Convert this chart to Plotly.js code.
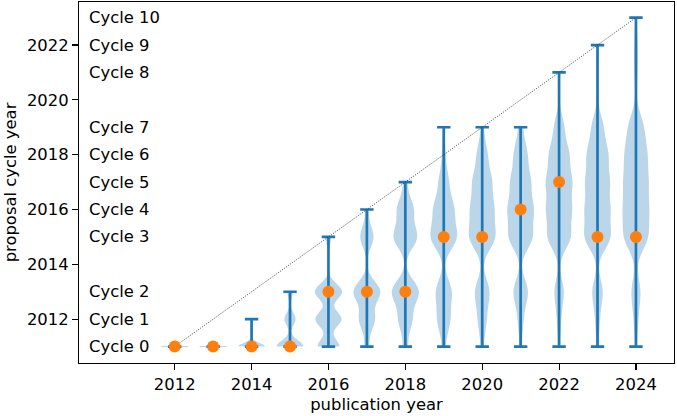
<!DOCTYPE html>
<html>
<head>
<meta charset="utf-8">
<script src="https://cdn.plot.ly/plotly-3.0.1.min.js"></script>
<style>html,body{margin:0;padding:0;background:#fff;}#chart{width:677px;height:416px;}</style>
</head>
<body>
<div id="chart"></div>
<script>
// ---- data ----
const pubYears = [2012, 2013, 2014, 2015, 2016, 2017, 2018, 2019, 2020, 2021, 2022, 2023, 2024];
const cycleYears = [2011, 2012, 2013, 2015, 2016, 2017, 2018, 2019, 2021, 2022, 2023];
const cycleNames = ['Cycle 0', 'Cycle 1', 'Cycle 2', 'Cycle 3', 'Cycle 4', 'Cycle 5', 'Cycle 6', 'Cycle 7', 'Cycle 8', 'Cycle 9', 'Cycle 10'];
// number of publications per proposal cycle (order of cycleYears), one array per publication year
const counts2012 = [5, 0, 0, 0, 0, 0, 0, 0, 0, 0, 0];
const counts2013 = [12, 0, 0, 0, 0, 0, 0, 0, 0, 0, 0];
const counts2014 = [28, 2, 0, 0, 0, 0, 0, 0, 0, 0, 0];
const counts2015 = [185, 77, 37, 0, 0, 0, 0, 0, 0, 0, 0];
const counts2016 = [200, 240, 250, 50, 0, 0, 0, 0, 0, 0, 0];
const counts2017 = [40, 140, 240, 120, 30, 0, 0, 0, 0, 0, 0];
const counts2018 = [50, 150, 300, 260, 180, 40, 0, 0, 0, 0, 0];
const counts2019 = [40, 160, 200, 330, 250, 120, 40, 15, 0, 0, 0];
const counts2020 = [30, 90, 160, 280, 240, 200, 110, 25, 0, 0, 0];
const counts2021 = [25, 60, 170, 270, 280, 220, 150, 50, 0, 0, 0];
const counts2022 = [20, 45, 110, 260, 270, 280, 220, 110, 25, 0, 0];
const counts2023 = [25, 55, 140, 330, 300, 290, 260, 150, 25, 15, 0];
const counts2024 = [20, 50, 120, 300, 290, 280, 260, 190, 40, 40, 15];
const countsByYear = [counts2012, counts2013, counts2014, counts2015, counts2016, counts2017, counts2018,
  counts2019, counts2020, counts2021, counts2022, counts2023, counts2024];
// most common proposal cycle year per publication year (orange dots)
const peakCycle = [2011, 2011, 2011, 2011, 2013, 2013, 2013, 2015, 2015, 2016, 2017, 2015, 2015];

// ---- style ----
const C0 = '#1f77b4', C1 = '#ff7f0e';
const VW = 0.7;            // violin width (data units)
const FONT = 'DejaVu Sans, Liberation Sans, sans-serif';
const FS = 16.4;

const traces = [];
const mins = [], maxs = [];
const flatX = [], flatY = [];

pubYears.forEach((yr, i) => {
  const samples = [];
  countsByYear[i].forEach((c, k) => { for (let j = 0; j < c; j++) samples.push(cycleYears[k]); });
  const n = samples.length;
  const mean = samples.reduce((a, b) => a + b, 0) / n;
  const sd = Math.sqrt(samples.reduce((a, b) => a + (b - mean) * (b - mean), 0) / (n - 1));
  const lo = Math.min(...samples), hi = Math.max(...samples);
  mins.push(lo); maxs.push(hi);
  if (sd > 0) {
    traces.push({
      type: 'violin', x0: yr, y: samples, name: String(yr),
      bandwidth: sd * Math.pow(n, -0.2), // Scott's rule
      spanmode: 'hard', scalemode: 'width', width: VW,
      points: false, box: {visible: false}, meanline: {visible: false},
      fillcolor: 'rgba(31,119,180,0.3)', line: {color: 'rgba(31,119,180,0.0)', width: 0},
      hoverinfo: 'skip', showlegend: false
    });
  } else {
    flatX.push(yr - VW / 2, yr + VW / 2, null);
    flatY.push(lo, lo, null);
  }
});

traces.push({
  type: 'scatter', mode: 'lines', x: flatX, y: flatY,
  line: {color: 'rgba(31,119,180,0.3)', width: 1.2}, hoverinfo: 'skip', showlegend: false
});

// min/max caps and connecting bars
traces.push({
  type: 'scatter', mode: 'markers', x: pubYears, y: mins,
  marker: {size: 1, color: 'rgba(0,0,0,0)'},
  error_y: {type: 'data', symmetric: false, array: maxs.map((m, i) => m - mins[i]), arrayminus: mins.map(() => 0),
    color: C0, thickness: 2.7, width: 6.7},
  hoverinfo: 'skip', showlegend: false
});

// diagonal reference line
traces.push({
  type: 'scatter', mode: 'lines',
  x: [pubYears[0], pubYears[pubYears.length - 1]],
  y: [mins[0], maxs[maxs.length - 1]],
  line: {color: '#333333', width: 0.9, dash: '1px,1.4px'}, hoverinfo: 'skip', showlegend: false
});

// peak markers
traces.push({
  type: 'scatter', mode: 'markers', x: pubYears, y: peakCycle,
  marker: {size: 12, color: C1}, hoverinfo: 'skip', showlegend: false
});

const annotations = cycleYears.map((cy, k) => ({
  x: 2009.71, y: cy, xref: 'x', yref: 'y', text: cycleNames[k], showarrow: false,
  xanchor: 'left', yanchor: 'middle', font: {family: FONT, size: FS, color: 'black'}
}));

const axisCommon = {
  showgrid: false, zeroline: false, showline: true, mirror: true, linecolor: 'black', linewidth: 1.1,
  ticks: 'outside', ticklen: 6, tickwidth: 1.1, tickcolor: 'black',
  tickfont: {family: FONT, size: FS, color: 'black'}
};

const layout = {
  width: 677, height: 416,
  margin: {l: 79, r: 3, t: 2, b: 53},
  paper_bgcolor: 'white', plot_bgcolor: 'white',
  violinmode: 'overlay',
  font: {family: FONT, size: FS, color: 'black'},
  xaxis: Object.assign({}, axisCommon, {
    range: [2009.51, 2024.99], tickmode: 'array', tickvals: [2012, 2014, 2016, 2018, 2020, 2022, 2024],
    title: {text: 'publication year', font: {family: FONT, size: FS, color: 'black'}, standoff: 5}
  }),
  yaxis: Object.assign({}, axisCommon, {
    range: [2010.4, 2023.57], tickmode: 'array', tickvals: [2012, 2014, 2016, 2018, 2020, 2022],
    title: {text: 'proposal cycle year', font: {family: FONT, size: FS, color: 'black'}, standoff: 6}
  }),
  annotations: annotations,
  showlegend: false
};

Plotly.newPlot('chart', traces, layout, {staticPlot: true, displayModeBar: false});
</script>
</body>
</html>
